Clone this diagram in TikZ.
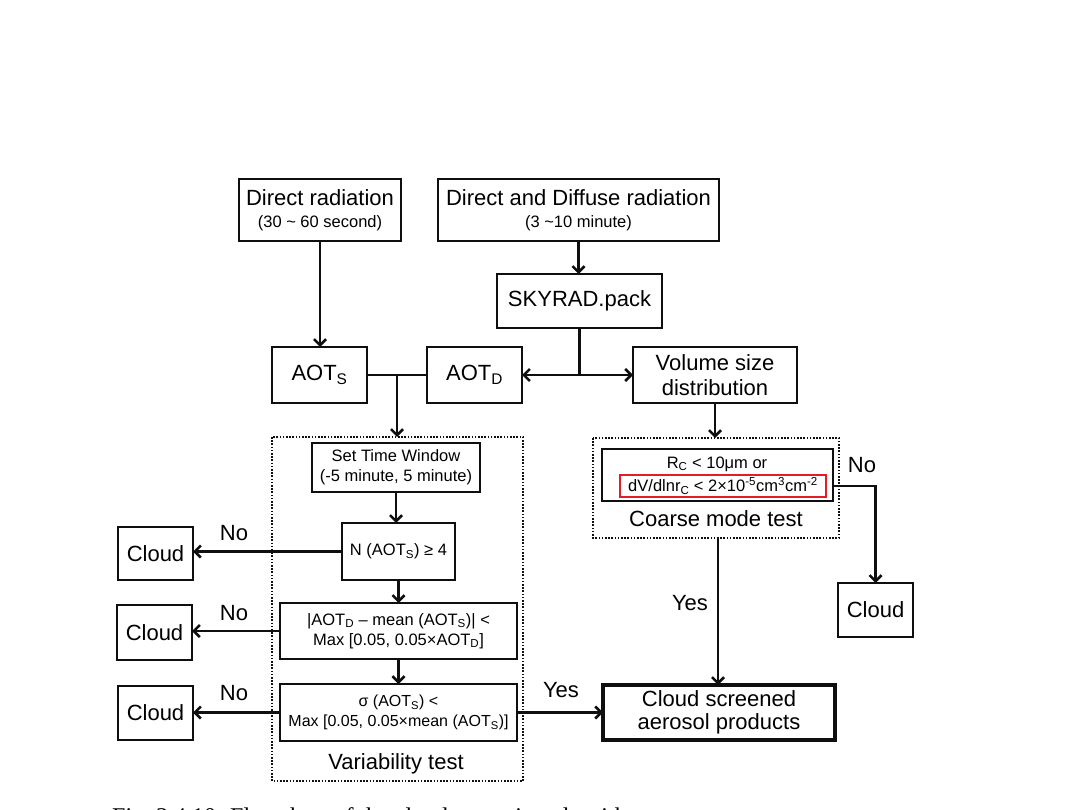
\documentclass[tikz,border=0pt]{standalone}
\usepackage{fontspec}
\setmainfont{Liberation Sans}
\newfontfamily\capfont{Liberation Serif}
\usetikzlibrary{arrows.meta}
\newcommand\fsz[2]{\fontsize{#1}{#2}\selectfont}
\definecolor{lineblk}{RGB}{15,15,15}
\definecolor{redbox}{RGB}{225,30,35}
\tikzset{
  box/.style={draw=lineblk, line width=2pt, inner sep=0pt, outer sep=0pt, align=center, font=\fsz{22}{25}},
  thickbox/.style={box, line width=3.5pt},
  dotbox/.style={draw=lineblk, line width=1.6pt, dash pattern=on 1.6pt off 1.6pt},
  lbl/.style={inner sep=0pt, font=\fsz{22}{25}},
  ln/.style={draw=lineblk, line width=2.6pt},
  arr/.style={ln, -{Straight Barb[length=6pt,width=12pt]}},
  wh/.style 2 args={minimum width=#1pt, minimum height=#2pt}
}
\begin{document}
\begin{tikzpicture}[x=1pt,y=-1pt]
\fill[white] (0,0) rectangle (1078,810);
\useasboundingbox (0,0) rectangle (1078,810);

% dotted group boxes
\draw[dotbox] (272,437) rectangle (523,781);
\draw[dotbox] (593,438) rectangle (839,538);
\coordinate (vartop) at (397,437);
\coordinate (coarsetop) at (715,438);
\coordinate (coarsebot) at (718,538);

% top row
\node[box, wh={162}{62}] (dr) at (320,210) {{\fsz{22}{25}Direct radiation}\\[-3pt]{\fsz{16.5}{19}(30 \textasciitilde{} 60 second)}};
\node[box, wh={281}{62}] (dd) at (578.5,210) {{\fsz{22}{25}Direct and Diffuse radiation}\\[-3pt]{\fsz{16.5}{19}(3 \textasciitilde10 minute)}};
\node[box, wh={165}{54}] (sky) at (579.5,301) {SKYRAD.pack};

% AOT row
\node[box, wh={95}{56}] (aots) at (319.5,375) {AOT\textsubscript{S}};
\node[box, wh={95}{56}] (aotd) at (474.5,375) {AOT\textsubscript{D}};
\node[box, wh={164}{56}] (vol) at (715,375) {Volume size\\[0pt]distribution};
\coordinate (J) at (579.5,375);
\coordinate (K) at (397,375);

% variability test
\node[box, wh={168}{49}, font=\fsz{16.5}{20}] (stw) at (396,467.5) {Set Time Window\\(-5 minute, 5 minute)};
\node[box, wh={113}{57}, font=\fsz{16.5}{20}] (nb) at (398.5,551.5) {N (AOT\textsubscript{S}) ≥ 4};
\node[box, wh={237}{56}, font=\fsz{16.5}{20}] (ab) at (398.5,631) {|AOT\textsubscript{D} – mean (AOT\textsubscript{S})| <\\Max [0.05, 0.05×AOT\textsubscript{D}]};
\node[box, wh={237}{57}, font=\fsz{16}{20}] (sg) at (398.5,712.5) {σ (AOT\textsubscript{S}) <\\Max [0.05, 0.05×mean (AOT\textsubscript{S})]};
\node[lbl] (vt) at (396,764) {Variability test};

% cloud boxes
\node[box, wh={75}{53}] (c1) at (155.5,553.5) {Cloud};
\node[box, wh={75}{55}] (c2) at (154.5,632.5) {Cloud};
\node[box, wh={75}{54}] (c3) at (155.5,713) {Cloud};
\node[box, wh={75}{54}] (c4) at (875.5,610) {Cloud};

% coarse mode test
\node[box, wh={231}{52}] (cin) at (717.5,475) {};
\node[lbl, font=\fsz{16.5}{20}] (rc) at (717,464) {R\textsubscript{C} < 10μm or};
\node[draw=redbox, line width=2pt, inner sep=0pt, wh={206}{22}, font=\fsz{16.5}{20}] (red) at (723,486) {dV/dlnr\textsubscript{C} < 2×10\textsuperscript{-5}cm\textsuperscript{3}cm\textsuperscript{-2}};
\node[lbl] (cmt) at (716,519) {Coarse mode test};

% result
\node[thickbox, wh={232}{55}] (csa) at (719,712.5) {Cloud screened\\[-2pt]aerosol products};

% connectors
\draw[arr] (dr.south) -- (dr.south |- aots.north);
\draw[arr] (dd.south) -- (dd.south |- sky.north);
\draw[ln] (sky.south) -- (J);
\draw[arr] (J) -- (aotd.east);
\draw[arr] (J) -- (vol.west);
\draw[ln] (aots.east) -- (aotd.west);
\draw[arr] (K) -- (vartop);
\draw[arr] (vol.south) -- (coarsetop);
\draw[arr] (stw.south) -- (stw.south |- nb.north);
\draw[arr] (nb.south) -- (ab.north);
\draw[arr] (ab.south) -- (sg.north);
\draw[arr] (nb.west) -- (c1.east |- nb.west);
\draw[arr] (ab.west) -- (c2.east |- ab.west);
\draw[arr] (sg.west) -- (c3.east |- sg.west);
\draw[arr] (sg.east) -- (csa.west |- sg.east);
\draw[arr] (coarsebot) -- (coarsebot |- csa.north);
\draw[arr] (cin.east |- red.east) -- (c4.north |- red.east) -- (c4.north);

% labels
\node[lbl] (no1) at (234,533) {No};
\node[lbl] (no2) at (234,613) {No};
\node[lbl] (no3) at (234,693) {No};
\node[lbl] (no4) at (862,465) {No};
\node[lbl] (yes1) at (690,603) {Yes};
\node[lbl] (yes2) at (561,690) {Yes};

% caption (clipped by the page edge, as in the reference)
\node[anchor=base west, inner sep=0pt, font=\capfont\fsz{24}{28}] (cap) at (112,824) {Fig.~3.4.10. Flowchart of the cloud screening algorithm};
\end{tikzpicture}
\end{document}
